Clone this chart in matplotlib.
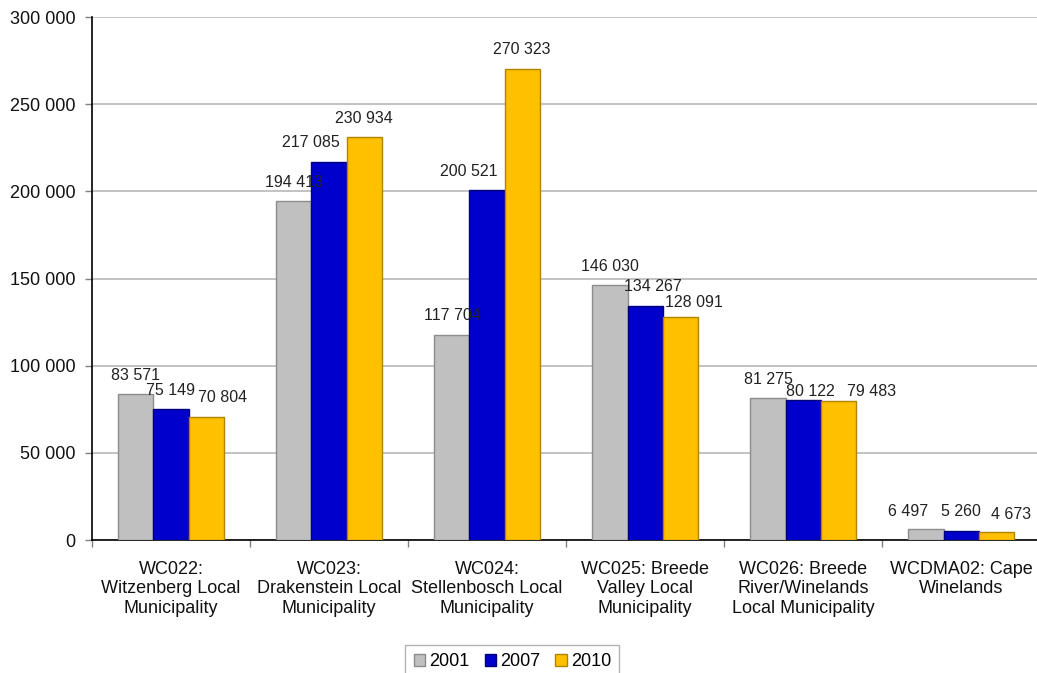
import matplotlib
matplotlib.use("Agg")
import matplotlib.pyplot as plt
from matplotlib.ticker import FuncFormatter, FixedLocator
import numpy as np

plt.rcParams['font.family'] = ['Liberation Sans', 'DejaVu Sans']

categories = [
    "WC022:\nWitzenberg Local\nMunicipality",
    "WC023:\nDrakenstein Local\nMunicipality",
    "WC024:\nStellenbosch Local\nMunicipality",
    "WC025: Breede\nValley Local\nMunicipality",
    "WC026: Breede\nRiver/Winelands\nLocal Municipality",
    "WCDMA02: Cape\nWinelands",
]
years = ["2001", "2007", "2010"]
values_2001 = [83571, 194413, 117704, 146030, 81275, 6497]
values_2007 = [75149, 217085, 200521, 134267, 80122, 5260]
values_2010 = [70804, 230934, 270323, 128091, 79483, 4673]

# label nudges (pixels): sideways and height above the bar top
nudge_2001 = [(0, 19), (0, 19), (0, 19), (0, 19), (0, 19), (-18, 17)]
nudge_2007 = [(0, 19), (-18, 19), (-18, 19), (8, 19), (7, 9), (0, 19)]
nudge_2010 = [(16, 19), (0, 19), (0, 19), (14, 14), (33, 10), (15, 17)]

fills = ["#C0C0C0", "#0000CC", "#FFC000"]
edges = ["#8C8C8C", "#00007A", "#B08400"]


def spaced(v):
    return f"{int(v):,}".replace(",", " ")


fig = plt.figure(figsize=(10.37, 6.73), dpi=100)
ax = fig.add_axes([0.0887, 0.1976, 0.9143, 0.7771])

x = np.arange(len(categories))
w = 0.222
series = [values_2001, values_2007, values_2010]
nudges = [nudge_2001, nudge_2007, nudge_2010]
for i, (vals, nd, fc, ec, yr) in enumerate(zip(series, nudges, fills, edges, years)):
    pos = x + (i - 1) * w
    bars = ax.bar(pos, vals, width=w, color=fc, edgecolor=ec, linewidth=1.0,
                  label=yr, zorder=3)
    for b, v, (dx, dy) in zip(bars, vals, nd):
        ax.annotate(spaced(v), (b.get_x() + b.get_width() / 2, v),
                    xytext=(dx, dy), textcoords="offset pixels",
                    ha="center", va="center", fontsize=11.5, color="#222222",
                    zorder=4)

ax.set_xlim(-0.5, len(categories) - 0.5)
ax.set_ylim(0, 300000)
ax.set_yticks(np.arange(0, 300001, 50000))
ax.yaxis.set_major_formatter(FuncFormatter(lambda v, p: spaced(v)))
ax.grid(axis="y", color="#B8B8B8", linewidth=1.2, zorder=0)

# category labels sit between the boundary tick marks
ax.xaxis.set_major_locator(FixedLocator(np.arange(-0.5, len(categories), 1.0)))
ax.xaxis.set_major_formatter(FuncFormatter(lambda v, p: ""))
ax.set_xticks(x, minor=True)
ax.set_xticklabels(categories, minor=True, fontsize=13, linespacing=1.2,
                   color="#111111")
ax.tick_params(axis="x", which="minor", length=0, pad=15)
ax.tick_params(axis="x", which="major", length=5, color="#808080", width=1)
ax.tick_params(axis="y", length=5, width=1, color="#808080", labelsize=13,
               pad=7, labelcolor="#111111")

for s in ["top", "right"]:
    ax.spines[s].set_visible(False)
ax.spines["left"].set_color("#000000")
ax.spines["bottom"].set_color("#000000")
ax.spines["left"].set_linewidth(1.2)
ax.spines["bottom"].set_linewidth(1.2)

leg = fig.legend(loc="upper center", bbox_to_anchor=(0.494, 0.0416), ncol=3,
                 frameon=True, fancybox=False, edgecolor="#A0A0A0",
                 fontsize=13, handlelength=0.65, handleheight=0.65,
                 handletextpad=0.2, columnspacing=0.85, borderpad=0.45,
                 borderaxespad=0)
leg.get_frame().set_linewidth(1.0)

fig.savefig("out.png", dpi=100)
